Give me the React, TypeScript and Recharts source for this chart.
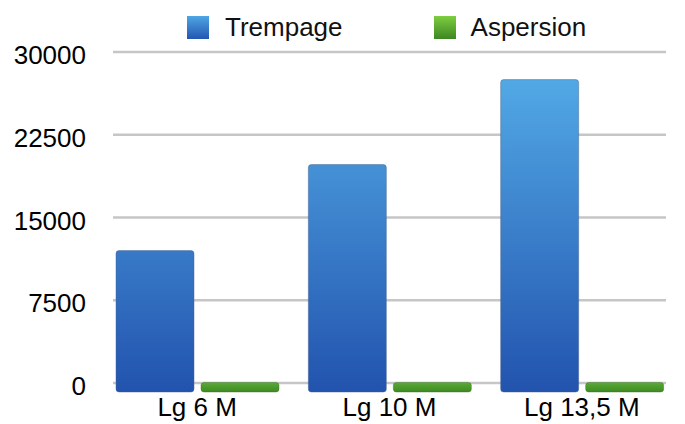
import { BarChart, Bar, XAxis, YAxis, CartesianGrid, Legend } from "recharts";

const categories = ["Lg 6 M", "Lg 10 M", "Lg 13,5 M"];
const trempage = [12000, 19800, 27500];
const aspersion = [50, 50, 50];
const yTicks = [0, 7500, 15000, 22500, 30000];

const seriesNames = ["Trempage", "Aspersion"];

const data = categories.map((name, i) => ({
  name,
  trempage: trempage[i],
  aspersion: aspersion[i],
}));

const FONT = '"Liberation Sans", Arial, Helvetica, sans-serif';

// bars in the source sink a few px under the zero line
const SINK = 9;

const BarShape = (fill: string, stroke: string) => (props: any) => {
  const { x, y, width, height } = props;
  if (x == null || y == null) return null;
  return (
    <rect
      x={x}
      y={y}
      width={width}
      height={Math.max(height, 0) + SINK}
      rx={3}
      ry={3}
      fill={fill}
      stroke={stroke}
      strokeWidth={1}
    />
  );
};

const LegendContent = () => (
  <div
    style={{
      display: "flex",
      alignItems: "center",
      height: 30,
      paddingLeft: 187,
      fontFamily: FONT,
      fontSize: 26,
      color: "#111",
    }}
  >
    <span
      style={{
        width: 22,
        height: 23,
        background: "linear-gradient(#4fa6e4, #2256b1)",
        marginRight: 16,
      }}
    />
    <span style={{ marginRight: 91 }}>{seriesNames[0]}</span>
    <span
      style={{
        width: 22,
        height: 23,
        background: "linear-gradient(#7fcd40, #3c8722)",
        marginRight: 15,
      }}
    />
    <span>{seriesNames[1]}</span>
  </div>
);

export default function App() {
  return (
    <div
      style={{
        position: "absolute",
        left: 0,
        top: 0,
        width: 685,
        height: 424,
        background: "#fff",
        fontFamily: FONT,
      }}
    >
      <BarChart
        width={685}
        height={424}
        data={data}
        margin={{ top: 22, right: 19, bottom: 11, left: 0 }}
        barSize={78}
        barGap={7}
      >
        <defs>
          <linearGradient id="blueFill" gradientUnits="userSpaceOnUse" x1="0" y1="52" x2="0" y2="392">
            <stop offset="0%" stopColor="#56b0ea" />
            <stop offset="100%" stopColor="#2253ae" />
          </linearGradient>
          <linearGradient id="greenFill" x1="0" y1="0" x2="0" y2="1">
            <stop offset="0%" stopColor="#5aa938" />
            <stop offset="100%" stopColor="#3e8a22" />
          </linearGradient>
        </defs>
        <CartesianGrid vertical={false} stroke="#c6c6c6" strokeWidth={2.5} />
        <XAxis
          dataKey="name"
          axisLine={false}
          tickLine={false}
          tickSize={0}
          tickMargin={15}
          padding={{ left: -12, right: -12 }}
          tick={{ fontSize: 26, fill: "#000", fontFamily: FONT }}
        />
        <YAxis
          width={113}
          domain={[0, 30000]}
          ticks={yTicks}
          axisLine={false}
          tickLine={false}
          tickSize={0}
          tickMargin={27}
          tick={{ fontSize: 26, fill: "#000", fontFamily: FONT, dy: 3 }}
        />
        <Legend verticalAlign="top" wrapperStyle={{ left: 0, top: 12, width: 685 }} content={LegendContent} />
        <Bar
          dataKey="trempage"
          name={seriesNames[0]}
          isAnimationActive={false}
          shape={BarShape("url(#blueFill)", "rgba(70,100,140,0.45)")}
        />
        <Bar
          dataKey="aspersion"
          name={seriesNames[1]}
          isAnimationActive={false}
          shape={BarShape("url(#greenFill)", "rgba(50,110,30,0.4)")}
        />
      </BarChart>
    </div>
  );
}
